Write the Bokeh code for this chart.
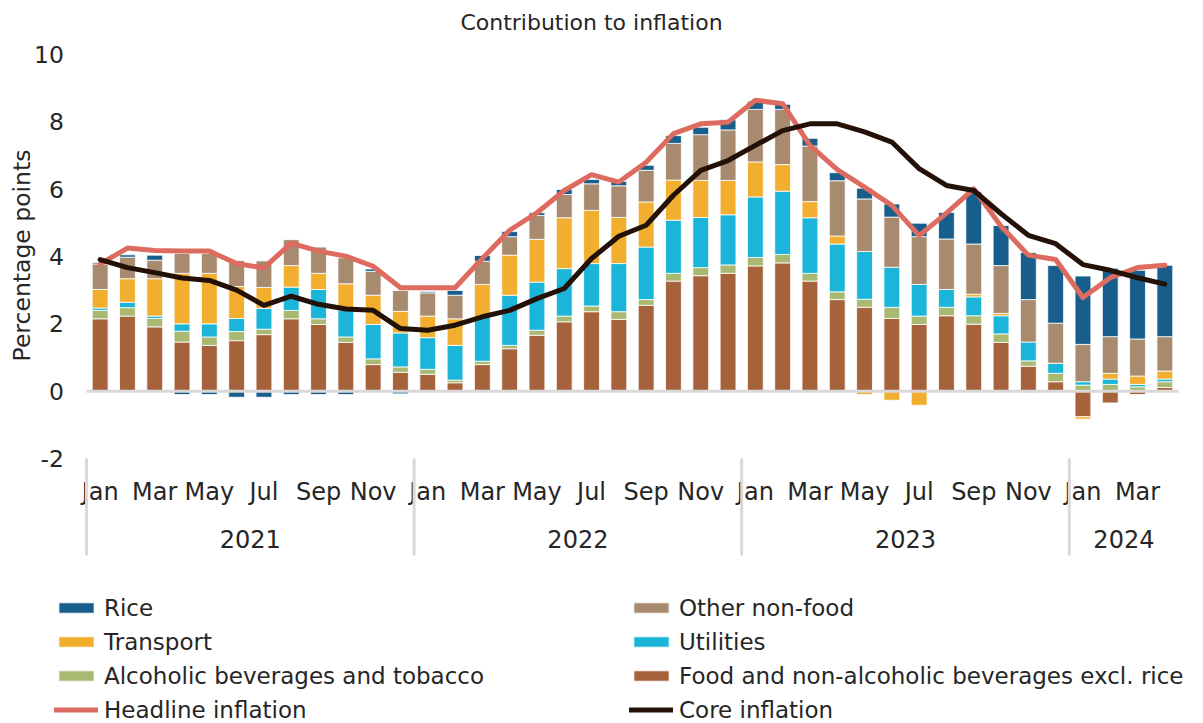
import numpy as np
from bokeh.plotting import figure
from bokeh.models import ColumnDataSource, Range1d, Legend, LegendItem
from bokeh.core.properties import value
from bokeh.embed import file_html
from bokeh.resources import INLINE

# ---------------- data ----------------
months = ["Jan", "Feb", "Mar", "Apr", "May", "Jun", "Jul", "Aug", "Sep", "Oct", "Nov", "Dec"]
years = ["2021", "2022", "2023", "2024"]
months_per_year = [12, 12, 12, 4]

rice = [0.04, 0.07, 0.15, -0.10, -0.10, -0.18, -0.18, -0.10, -0.10, -0.10, 0.07, -0.08,
        0.04, 0.14, 0.17, 0.15, 0.08, 0.15, 0.13, 0.13, 0.15, 0.23, 0.22, 0.30,
        0.24, 0.15, 0.23, 0.24, 0.32, 0.39, 0.40, 0.79, 1.55, 1.19, 1.40, 1.71,
        2.03, 2.03, 2.04, 2.12]
other_non_food = [0.76, 0.64, 0.55, 0.59, 0.59, 0.77, 0.79, 0.77, 0.78, 0.77, 0.71, 0.62,
                  0.69, 0.70, 0.69, 0.55, 0.71, 0.69, 0.79, 0.94, 0.94, 1.09, 1.36, 1.50,
                  1.56, 1.64, 1.65, 1.64, 1.56, 1.49, 1.42, 1.50, 1.49, 1.42, 1.26, 1.19,
                  1.11, 1.09, 1.10, 1.02]
transport = [0.55, 0.70, 1.11, 1.50, 1.50, 0.95, 0.62, 0.64, 0.48, 0.79, 0.87, 0.64,
             0.64, 0.79, 0.96, 1.19, 1.27, 1.51, 1.58, 1.37, 1.34, 1.19, 1.10, 1.02,
             1.04, 0.79, 0.48, 0.24, -0.10, -0.27, -0.42, 0.00, 0.08, 0.07, -0.05, 0.00,
             -0.07, 0.17, 0.25, 0.24]
utilities = [0.07, 0.16, 0.07, 0.22, 0.39, 0.39, 0.62, 0.69, 0.87, 0.79, 1.02, 1.01,
             0.94, 1.03, 1.32, 1.49, 1.43, 1.41, 1.26, 1.43, 1.56, 1.58, 1.49, 1.49,
             1.80, 1.88, 1.65, 1.42, 1.42, 1.19, 0.94, 0.53, 0.56, 0.54, 0.56, 0.30,
             0.10, 0.16, 0.07, 0.08]
alcohol_tobacco = [0.25, 0.25, 0.25, 0.32, 0.25, 0.27, 0.16, 0.25, 0.17, 0.16, 0.17, 0.16,
                   0.15, 0.08, 0.10, 0.10, 0.15, 0.17, 0.17, 0.23, 0.17, 0.23, 0.24, 0.25,
                   0.25, 0.25, 0.23, 0.23, 0.24, 0.33, 0.25, 0.25, 0.25, 0.25, 0.16, 0.25,
                   0.18, 0.20, 0.13, 0.17]
food_excl_rice = [2.15, 2.23, 1.91, 1.46, 1.36, 1.50, 1.68, 2.15, 1.98, 1.45, 0.79, 0.56,
                  0.50, 0.25, 0.79, 1.26, 1.66, 2.06, 2.36, 2.13, 2.55, 3.27, 3.43, 3.50,
                  3.72, 3.81, 3.27, 2.72, 2.49, 2.16, 1.98, 2.24, 1.99, 1.45, 0.74, 0.28,
                  -0.76, -0.35, -0.10, 0.11]
headline = [3.78, 4.25, 4.18, 4.16, 4.16, 3.79, 3.66, 4.40, 4.16, 4.01, 3.71, 3.07,
            3.07, 3.07, 3.94, 4.78, 5.30, 5.96, 6.43, 6.21, 6.80, 7.65, 7.94, 7.99,
            8.64, 8.54, 7.30, 6.58, 6.06, 5.52, 4.62, 5.29, 6.01, 4.90, 4.04, 3.91,
            2.78, 3.37, 3.67, 3.74]
core = [3.91, 3.67, 3.52, 3.36, 3.29, 3.00, 2.55, 2.82, 2.58, 2.44, 2.40, 1.86,
        1.81, 1.96, 2.21, 2.40, 2.75, 3.05, 3.94, 4.60, 4.93, 5.82, 6.56, 6.85,
        7.30, 7.74, 7.94, 7.94, 7.70, 7.40, 6.61, 6.11, 5.96, 5.27, 4.63, 4.38,
        3.76, 3.59, 3.37, 3.18]
y_ticks = [-2, 0, 2, 4, 6, 8, 10]
y_tick_labels = ["-2", "0", "2", "4", "6", "8", "10"]

# ---------------- layout helpers ----------------
FONT = value("DejaVu Sans")
TXT = "#262626"
GRID = "#d9d9d9"
W, H = 1200, 723
PX = 33.667          # px per percentage point
SX = 27.3            # px per month
LEFT = 86            # canvas x of the left edge of the plotting area
ZERO = 390.67        # canvas y of the zero line

def dx(px):  # canvas x -> data x
    return -0.5 + (px - LEFT) / SX

def dy(py):  # canvas y -> data y
    return (ZERO - py) / PX

n = len(food_excl_rice)
x = np.arange(n)

p = figure(width=W, height=H, output_backend="svg", toolbar_location=None,
           x_range=Range1d(dx(0), dx(W)), y_range=Range1d(dy(H), dy(0)),
           x_axis_type=None, y_axis_type=None,
           min_border_left=0, min_border_right=0, min_border_top=0, min_border_bottom=0)
p.outline_line_color = None
p.background_fill_color = "white"
p.border_fill_color = "white"
p.grid.visible = False

# ---------------- stacked bars ----------------
series = [
    ("Food and non-alcoholic beverages excl. rice", food_excl_rice, "#a6633b"),
    ("Alcoholic beverages and tobacco", alcohol_tobacco, "#a9b971"),
    ("Utilities", utilities, "#1ab5d8"),
    ("Transport", transport, "#f2ae2f"),
    ("Other non-food", other_non_food, "#a88a6f"),
    ("Rice", rice, "#175e8c"),
]
pos = np.zeros(n)
neg = np.zeros(n)
rend = {}
for name, vals, color in series:
    v = np.array(vals, dtype=float)
    bottom = np.where(v >= 0, pos, neg)
    top = bottom + v
    pos = np.where(v >= 0, top, pos)
    neg = np.where(v < 0, top, neg)
    src = ColumnDataSource(dict(x=x, bottom=bottom, top=top))
    rend[name] = p.vbar(x="x", bottom="bottom", top="top", width=0.58, source=src,
                        fill_color=color, line_color="white", line_width=0.8)

# zero line
p.segment(x0=[-0.5], y0=[0], x1=[n - 0.5], y1=[0], line_color=GRID, line_width=3)

# lines
lsrc = ColumnDataSource(dict(x=x, headline=headline, core=core))
rend["Headline inflation"] = p.line("x", "headline", source=lsrc, line_color="#dd6b60",
                                    line_width=5, line_join="round", line_cap="round")
rend["Core inflation"] = p.line("x", "core", source=lsrc, line_color="#231107",
                                line_width=5, line_join="round", line_cap="round")

# ---------------- y axis (tick labels + title) ----------------
p.text(x=[dx(63.5)] * len(y_ticks), y=y_ticks, text=y_tick_labels, text_align="right",
       text_baseline="middle", text_font=FONT, text_font_size=value("23.5px"),
       text_color=TXT)
p.text(x=[dx(21.5)], y=[dy(255)], text=["Percentage points"], angle=np.pi / 2,
       text_align="center", text_baseline="middle", text_font=FONT,
       text_font_size=value("23.5px"), text_color=TXT)

# ---------------- x axis (months, years, separators) ----------------
month_ticks = list(range(0, n, 2))
p.text(x=month_ticks, y=[dy(491)] * len(month_ticks),
       text=[months[t % 12] for t in month_ticks], text_align="center",
       text_baseline="middle", text_font=FONT, text_font_size=value("24px"), text_color=TXT)

starts = np.cumsum([0] + months_per_year[:-1])
centers = [float(s + c / 2 - 0.5) for s, c in zip(starts, months_per_year)]
bounds = [float(s - 0.5) for s in starts]
p.text(x=centers, y=[dy(538)] * len(centers), text=years, text_align="center",
       text_baseline="middle", text_font=FONT, text_font_size=value("24px"), text_color=TXT)
p.segment(x0=bounds, y0=[-2] * len(bounds), x1=bounds, y1=[dy(555)] * len(bounds),
          line_color=GRID, line_width=3)

# ---------------- title ----------------
p.text(x=[dx(591)], y=[dy(22)], text=["Contribution to inflation"], text_align="center",
       text_baseline="middle", text_font=FONT, text_font_size=value("22px"), text_color=TXT)

# ---------------- legend (two columns) ----------------
def make_legend(names, left_px):
    return Legend(items=[LegendItem(label=nm, renderers=[rend[nm]]) for nm in names],
                  location=(left_px, 0), orientation="vertical",
                  glyph_width=44, glyph_height=13, label_standoff=6,
                  label_height=27, spacing=7, padding=0, margin=0,
                  border_line_color=None, background_fill_alpha=0,
                  label_text_font="DejaVu Sans", label_text_font_size="23px",
                  label_text_color=TXT)

p.add_layout(make_legend(["Rice", "Transport", "Alcoholic beverages and tobacco",
                          "Headline inflation"], 54), "center")
p.add_layout(make_legend(["Other non-food", "Utilities",
                          "Food and non-alcoholic beverages excl. rice", "Core inflation"],
                         629), "center")

open("out.html", "w").write(file_html(p, INLINE))
